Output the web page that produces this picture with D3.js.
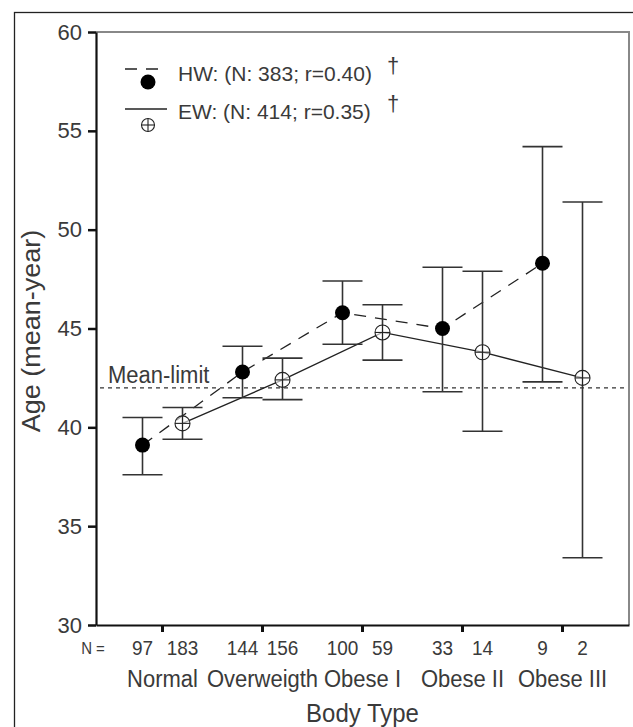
<!DOCTYPE html>
<html>
<head>
<meta charset="utf-8">
<script src="https://cdn.jsdelivr.net/npm/d3@7"></script>
<style>
  body { margin: 0; background: #fff; }
  text { font-family: "Liberation Sans", Arial, sans-serif; fill: #3a3a3a; }
</style>
</head>
<body>
<div id="chart"></div>
<script>
const categories = ["Normal", "Overweigth", "Obese I", "Obese II", "Obese III"]
const hwMean = [39.1, 42.8, 45.8, 45.0, 48.3]
const hwLow = [37.6, 41.5, 44.2, 41.8, 42.3]
const hwHigh = [40.5, 44.1, 47.4, 48.1, 54.2]
const ewMean = [40.2, 42.4, 44.8, 43.8, 42.5]
const ewLow = [39.4, 41.4, 43.4, 39.8, 33.4]
const ewHigh = [41.0, 43.5, 46.2, 47.9, 51.4]
const hwN = [97, 144, 100, 33, 9]
const ewN = [183, 156, 59, 14, 2]
const yTicks = [30, 35, 40, 45, 50, 55, 60]
const meanLimit = 42
const legendLabels = ["HW: (N: 383; r=0.40)", "EW: (N: 414; r=0.35)"]

const width = 633
const height = 727
const margin = { left: 96, right: 4, top: 32, bottom: 102 }
const innerW = width - margin.left - margin.right
const innerH = height - margin.top - margin.bottom
const stretch = 1.1 // the source picture is a little taller than wide

const svg = d3.select("#chart").append("svg")
  .attr("width", width)
  .attr("height", height)

// outer frame of the figure
svg.append("rect")
  .attr("x", 14.5).attr("y", 12.5)
  .attr("width", 700).attr("height", 800)
  .attr("fill", "none").attr("stroke", "#222").attr("stroke-width", 1.3)

const x = d3.scaleBand().domain(categories).range([0, innerW]).paddingOuter(0.165).paddingInner(0)
const xs = d3.scaleBand().domain(["HW", "EW"]).range([0, x.bandwidth()]).paddingOuter(0.25).paddingInner(0)
const y = d3.scaleLinear().domain([30, 60]).range([innerH, 0])

const g = svg.append("g").attr("transform", "translate(" + margin.left + "," + margin.top + ")")

// top and right frame
g.append("path")
  .attr("d", "M0,0H" + innerW + "V" + innerH)
  .attr("fill", "none").attr("stroke", "#888").attr("stroke-width", 2)

// y axis
const yAxis = g.append("g")
  .call(d3.axisLeft(y).tickValues(yTicks).tickSize(8).tickPadding(6).tickSizeOuter(0))
yAxis.select(".domain").attr("stroke", "#111").attr("stroke-width", 2.2)
yAxis.selectAll(".tick line").attr("stroke", "#111").attr("stroke-width", 2.5)
yAxis.selectAll(".tick text")
  .attr("font-size", 22).attr("fill", "#444")
  .style("font-family", "'Liberation Sans', Arial, sans-serif")

// x axis
const xAxis = g.append("g")
  .attr("transform", "translate(0," + innerH + ")")
  .call(d3.axisBottom(x).tickSize(7).tickSizeOuter(0).tickFormat(""))
xAxis.select(".domain").attr("stroke", "#111").attr("stroke-width", 2.2)
xAxis.selectAll(".tick line").attr("stroke", "#111").attr("stroke-width", 3)

// mean limit
g.append("line")
  .attr("x1", 4).attr("x2", innerW - 4)
  .attr("y1", y(meanLimit)).attr("y2", y(meanLimit))
  .attr("stroke", "#333").attr("stroke-width", 1.3).attr("stroke-dasharray", "4,4")
g.append("text")
  .attr("transform", "translate(12," + (y(meanLimit) - 5) + ") scale(1," + stretch + ")")
  .attr("font-size", 22)
  .text("Mean-limit")

const cx = (s, i) => x(categories[i]) + xs(s) + xs.bandwidth() / 2

// connecting lines
const hwLine = d3.line().x((d, i) => cx("HW", i)).y(d => y(d))
const ewLine = d3.line().x((d, i) => cx("EW", i)).y(d => y(d))
g.append("path").attr("d", hwLine(hwMean))
  .attr("fill", "none").attr("stroke", "#222").attr("stroke-width", 1.3).attr("stroke-dasharray", "12,9")
g.append("path").attr("d", ewLine(ewMean))
  .attr("fill", "none").attr("stroke", "#222").attr("stroke-width", 1.3)

// error bars
const cap = xs.step() / 2
function errorBars(series, low, high) {
  const bars = g.append("g").selectAll("g")
    .data(categories)
    .enter().append("g")
  bars.append("line")
    .attr("x1", (d, i) => cx(series, i)).attr("x2", (d, i) => cx(series, i))
    .attr("y1", (d, i) => y(low[i])).attr("y2", (d, i) => y(high[i]))
    .attr("stroke", "#333").attr("stroke-width", 1.6)
  bars.append("line")
    .attr("x1", (d, i) => cx(series, i) - cap).attr("x2", (d, i) => cx(series, i) + cap)
    .attr("y1", (d, i) => y(high[i])).attr("y2", (d, i) => y(high[i]))
    .attr("stroke", "#333").attr("stroke-width", 1.6)
  bars.append("line")
    .attr("x1", (d, i) => cx(series, i) - cap).attr("x2", (d, i) => cx(series, i) + cap)
    .attr("y1", (d, i) => y(low[i])).attr("y2", (d, i) => y(low[i]))
    .attr("stroke", "#333").attr("stroke-width", 1.6)
}
errorBars("HW", hwLow, hwHigh)
errorBars("EW", ewLow, ewHigh)

// markers
function crossCircle(sel, r) {
  sel.append("circle").attr("r", r).attr("fill", "#fff").attr("fill-opacity", 0.6)
    .attr("stroke", "#222").attr("stroke-width", 1.1)
  sel.append("line").attr("x1", -r).attr("x2", r).attr("stroke", "#222").attr("stroke-width", 1.1)
  sel.append("line").attr("y1", -r).attr("y2", r).attr("stroke", "#222").attr("stroke-width", 1.1)
}
g.selectAll(".hwDot")
  .data(hwMean)
  .enter().append("circle")
  .attr("class", "hwDot")
  .attr("cx", (d, i) => cx("HW", i)).attr("cy", d => y(d))
  .attr("r", 7.5).attr("fill", "#000")
g.selectAll(".ewDot")
  .data(ewMean)
  .enter().append("g")
  .attr("class", "ewDot")
  .attr("transform", (d, i) => "translate(" + cx("EW", i) + "," + y(d) + ")")
  .call(crossCircle, 7.5)

// N counts and category labels
const at = (px, py) => "translate(" + px + "," + py + ") scale(1," + stretch + ")"
svg.append("text")
  .attr("transform", at(93, innerH + margin.top + 29))
  .attr("text-anchor", "middle").attr("font-size", 15)
  .text("N =")
const nRow = innerH + margin.top + 30
svg.selectAll(".nHW").data(hwN).enter().append("text")
  .attr("transform", (d, i) => at(margin.left + cx("HW", i), nRow))
  .attr("text-anchor", "middle").attr("font-size", 19)
  .text(d => d)
svg.selectAll(".nEW").data(ewN).enter().append("text")
  .attr("transform", (d, i) => at(margin.left + cx("EW", i), nRow))
  .attr("text-anchor", "middle").attr("font-size", 19)
  .text(d => d)
svg.selectAll(".cat").data(categories).enter().append("text")
  .attr("transform", d => at(margin.left + x(d) + x.bandwidth() / 2, innerH + margin.top + 62))
  .attr("text-anchor", "middle").attr("font-size", 22)
  .text(d => d)
svg.append("text")
  .attr("transform", at(margin.left + innerW / 2, innerH + margin.top + 97))
  .attr("text-anchor", "middle").attr("font-size", 24)
  .text("Body Type")

// y title
svg.append("text")
  .attr("transform", "translate(40,331) rotate(-90) scale(1.08,1)")
  .attr("text-anchor", "middle").attr("font-size", 25)
  .text("Age (mean-year)")

// legend
const legend = svg.append("g").attr("transform", "translate(125,0)")
legend.append("line").attr("x1", 0).attr("x2", 42).attr("y1", 69).attr("y2", 69)
  .attr("stroke", "#222").attr("stroke-width", 1.3).attr("stroke-dasharray", "12,9")
legend.append("circle").attr("cx", 23).attr("cy", 82).attr("r", 7.5).attr("fill", "#000")
legend.append("line").attr("x1", 0).attr("x2", 42).attr("y1", 109).attr("y2", 109)
  .attr("stroke", "#222").attr("stroke-width", 1.3)
legend.append("g").attr("transform", "translate(23,125)").call(crossCircle, 6.5)
legend.selectAll(".lab").data(legendLabels).enter().append("text")
  .attr("x", 53).attr("y", (d, i) => 81 + i * 38)
  .attr("font-size", 21)
  .text(d => d)
legend.selectAll(".dag").data(legendLabels).enter().append("text")
  .attr("x", 262).attr("y", (d, i) => 73 + i * 38)
  .attr("font-size", 22)
  .text("†")
</script>
</body>
</html>
